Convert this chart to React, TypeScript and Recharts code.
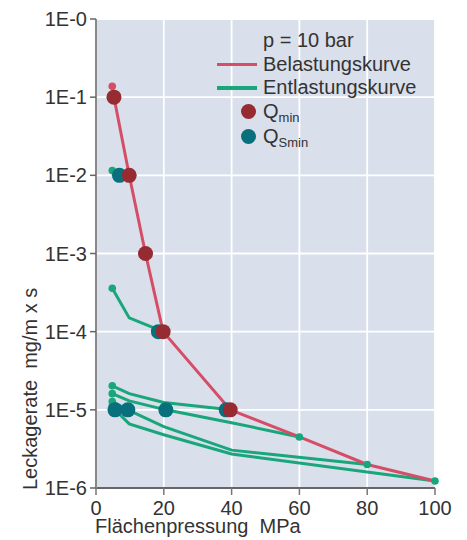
import { ComposedChart, Line, Scatter, XAxis, YAxis, CartesianGrid, Legend } from "recharts"

const FONT = '"Liberation Sans", Arial, Helvetica, sans-serif'
const TEXT = "#333"
const RED = "#d64d66"
const GREEN = "#18a67a"
const QMIN = "#962b31"
const QSMIN = "#08707c"

// axes
const xTicks = [0, 20, 40, 60, 80, 100]
const yTicks = [1e-6, 1e-5, 1e-4, 1e-3, 1e-2, 1e-1, 1]
const yTickLabels = ["1E-6", "1E-5", "1E-4", "1E-3", "1E-2", "1E-1", "1E-0"]

// Belastungskurve (Flächenpressung MPa / Leckagerate)
const loadP = [4.8, 5.3, 9.8, 14.6, 19.8, 39.6, 60, 80, 100]
const loadQ = [0.138, 0.1, 0.01, 0.001, 1e-4, 1e-5, 4.5e-6, 2e-6, 1.23e-6]

// Entlastungskurven, one per max. pressure
const unload10P = [9.8, 4.8]
const unload10Q = [0.01, 0.0115]
const unload20P = [19.8, 9.8, 4.8]
const unload20Q = [1e-4, 1.5e-4, 3.6e-4]
const unload40P = [39.6, 20, 9.8, 4.8]
const unload40Q = [1e-5, 1.24e-5, 1.61e-5, 2.03e-5]
const unload60P = [60, 39.6, 20.6, 9.8, 4.8]
const unload60Q = [4.5e-6, 6.9e-6, 1e-5, 1.3e-5, 1.61e-5]
const unload80P = [80, 40, 20, 9.4, 4.8]
const unload80Q = [2e-6, 3.05e-6, 6.1e-6, 1e-5, 1.28e-5]
const unload100P = [100, 40, 20, 9.8, 5.6, 4.8]
const unload100Q = [1.23e-6, 2.72e-6, 4.8e-6, 6.6e-6, 1e-5, 1.12e-5]

// Q_min / Q_Smin markers
const qminP = [5.3, 9.8, 14.6, 19.8, 39.6]
const qminQ = [0.1, 0.01, 0.001, 1e-4, 1e-5]
const qsminP = [6.9, 18.4, 5.6, 9.4, 20.6, 38.4]
const qsminQ = [0.01, 1e-4, 1e-5, 1e-5, 1e-5, 1e-5]

const pts = (p: number[], q: number[]) => p.map((x, i) => ({ x, y: q[i] }))

const loadData = pts(loadP, loadQ)
const unloadCurves = [
  pts(unload10P, unload10Q),
  pts(unload20P, unload20Q),
  pts(unload40P, unload40Q),
  pts(unload60P, unload60Q),
  pts(unload80P, unload80Q),
  pts(unload100P, unload100Q),
]
// green end dots of every unloading curve
const unloadEnds = unloadCurves.flatMap((c) => [c[0], c[c.length - 1]])
const qminData = pts(qminP, qminQ)
const qsminData = pts(qsminP, qsminQ)

const tickStyle = { fill: TEXT, fontSize: 20, fontFamily: FONT }

const YTitle = (props: any) => {
  const { x, y, height } = props.viewBox
  return (
    <text
      x={x + 37}
      y={y + height + 2}
      transform={`rotate(-90 ${x + 37} ${y + height + 2})`}
      fill={TEXT}
      fontSize={20}
      fontFamily={FONT}
      style={{ whiteSpace: "pre" }}
    >
      {"Leckagerate  mg/m x s"}
    </text>
  )
}

const XTitle = (props: any) => {
  const { x, y } = props.viewBox
  return (
    <text x={x - 1} y={y + 45} fill={TEXT} fontSize={20} fontFamily={FONT} style={{ whiteSpace: "pre" }}>
      {"Flächenpressung  MPa"}
    </text>
  )
}

const Dot = (r: number, color: string) => (props: any) =>
  <circle cx={props.cx} cy={props.cy} r={r} fill={color} />

const CustomLegend = () => {
  const row = { height: 23.5, display: "flex", alignItems: "center" } as const
  const sub = { fontSize: 13, position: "relative", top: 6 } as const
  return (
    <div style={{ fontFamily: FONT, fontSize: 20, color: TEXT, lineHeight: "23.5px" }}>
      <div style={{ ...row, paddingLeft: 51 }}>p = 10 bar</div>
      <div style={row}>
        <span style={{ display: "inline-block", width: 40, height: 3.5, background: RED, marginLeft: 5, marginRight: 6 }} />
        Belastungskurve
      </div>
      <div style={row}>
        <span style={{ display: "inline-block", width: 40, height: 3.5, background: GREEN, marginLeft: 5, marginRight: 6 }} />
        Entlastungskurve
      </div>
      <div style={{ ...row, height: 24.5 }}>
        <span style={{ display: "inline-block", width: 15, height: 15, borderRadius: 8, background: QMIN, marginLeft: 29, marginRight: 7 }} />
        Q<span style={sub}>min</span>
      </div>
      <div style={{ ...row, height: 24.5 }}>
        <span style={{ display: "inline-block", width: 15, height: 15, borderRadius: 8, background: QSMIN, marginLeft: 29, marginRight: 7 }} />
        Q<span style={sub}>Smin</span>
      </div>
    </div>
  )
}

export default function App() {
  return (
    <div style={{ position: "absolute", left: 0, top: 0 }}>
      <ComposedChart width={467} height={540} margin={{ top: 19, right: 32, left: 0, bottom: 0 }}>
        <CartesianGrid fill="#d9dfeb" stroke="#ffffff" strokeWidth={1.8} />
        <XAxis
          type="number"
          dataKey="x"
          domain={[0, 100]}
          ticks={xTicks}
          height={52}
          tickSize={7}
          tickMargin={6}
          tick={tickStyle}
          axisLine={{ stroke: "#333", strokeWidth: 1.5 }}
          tickLine={{ stroke: "#777", strokeWidth: 1.5 }}
          label={XTitle}
        />
        <YAxis
          type="number"
          dataKey="y"
          scale="log"
          domain={[1e-6, 1]}
          allowDataOverflow
          ticks={yTicks}
          tickFormatter={(v: number) => yTickLabels[yTicks.findIndex((t) => Math.abs(Math.log10(t) - Math.log10(v)) < 0.01)]}
          width={96}
          tickSize={6}
          tickMargin={3}
          tick={tickStyle}
          axisLine={{ stroke: "#888", strokeWidth: 2 }}
          tickLine={{ stroke: "#666", strokeWidth: 1.5 }}
          label={YTitle}
        />
        <Legend
          content={<CustomLegend />}
          layout="horizontal"
          verticalAlign="middle"
          align="center"
          wrapperStyle={{ top: 29, left: 212, width: 240 }}
        />
        {unloadCurves.map((c, i) => (
          <Line
            key={i}
            data={c}
            dataKey="y"
            type="linear"
            stroke={GREEN}
            strokeWidth={3}
            dot={false}
            activeDot={false}
            legendType="none"
            isAnimationActive={false}
          />
        ))}
        <Line
          data={loadData}
          dataKey="y"
          type="linear"
          stroke={RED}
          strokeWidth={3}
          dot={(p: any) =>
            p.index === 0 ? <circle key={p.index} cx={p.cx} cy={p.cy} r={3.8} fill={RED} /> : <g key={p.index} />
          }
          activeDot={false}
          legendType="none"
          isAnimationActive={false}
        />
        <Scatter data={unloadEnds} shape={Dot(3.8, GREEN)} legendType="none" isAnimationActive={false} />
        <Scatter data={qsminData} shape={Dot(7.5, QSMIN)} legendType="none" isAnimationActive={false} />
        <Scatter data={qminData} shape={Dot(7.5, QMIN)} legendType="none" isAnimationActive={false} />
      </ComposedChart>
    </div>
  )
}
